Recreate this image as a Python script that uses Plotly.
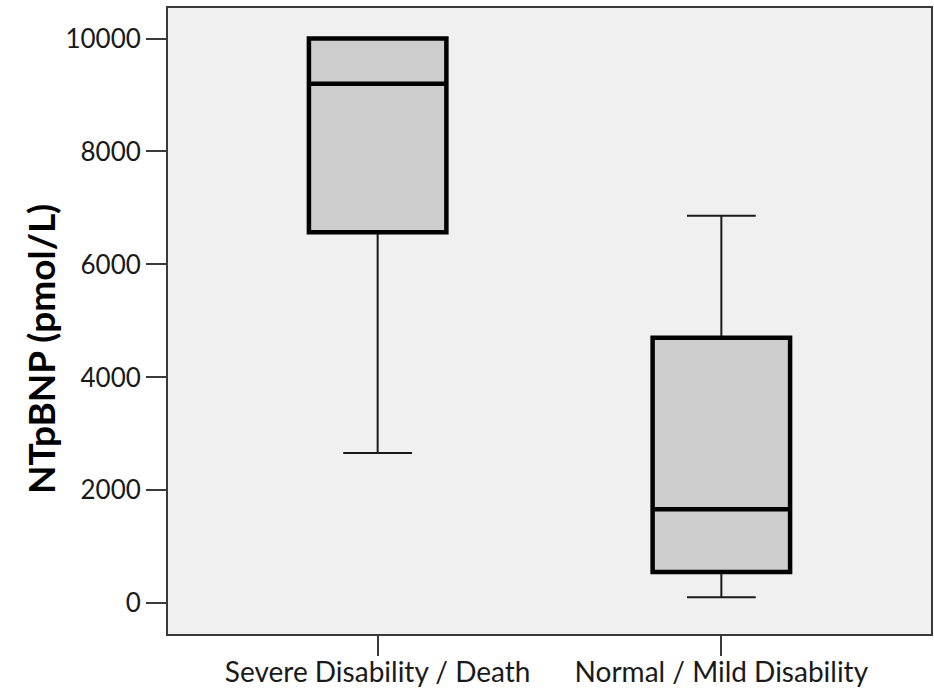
import plotly.graph_objects as go

categories = ["Severe Disability / Death", "Normal / Mild Disability"]
q1 = [6570, 555]
median = [9200, 1665]
q3 = [10000, 4700]
lower_whisker = [2660, 106]
upper_whisker = [10000, 6860]
y_ticks = [0, 2000, 4000, 6000, 8000, 10000]
y_title = "NTpBNP (pmol/L)"

fig = go.Figure()

# thin whiskers (full range)
for i, c in enumerate(categories):
    fig.add_trace(go.Box(
        x=[c], q1=[q1[i]], median=[median[i]], q3=[q3[i]],
        lowerfence=[lower_whisker[i]], upperfence=[upper_whisker[i]],
        width=0.4, whiskerwidth=0.5,
        fillcolor="#cdcdcd", line=dict(color="#1a1a1a", width=2),
        boxpoints=False, showlegend=False, hoverinfo="skip",
    ))
# thick boxes on top
for i, c in enumerate(categories):
    fig.add_trace(go.Box(
        x=[c], q1=[q1[i]], median=[median[i]], q3=[q3[i]],
        lowerfence=[q1[i]], upperfence=[q3[i]],
        width=0.4, whiskerwidth=0.5,
        fillcolor="#cdcdcd", line=dict(color="#000000", width=4.5),
        boxpoints=False, showlegend=False,
    ))

fig.update_layout(
    width=934, height=691,
    margin=dict(l=168, r=3, t=8, b=57, autoexpand=False),
    paper_bgcolor="white", plot_bgcolor="#f0f0f0",
    boxmode="overlay",
    font=dict(family="Lato, sans-serif", size=27, color="#1a1a1a"),
    annotations=[dict(
        text="<b>" + y_title + "</b>", textangle=-90,
        xref="paper", yref="paper", x=-0.168, y=0.455,
        xanchor="center", yanchor="middle", showarrow=False,
        font=dict(family="Lato, sans-serif", size=37, color="#000000"),
    )],
)
fig.update_xaxes(
    type="category", categoryorder="array", categoryarray=categories,
    range=[-0.61, 1.61], automargin=False,
    showline=True, linecolor="#3a3a3a", linewidth=2, mirror=True,
    ticks="outside", ticklen=20, tickwidth=2, tickcolor="#3a3a3a",
    ticklabelstandoff=-8,
    showgrid=False, zeroline=False,
    tickfont=dict(family="Lato, sans-serif", size=28, color="#1a1a1a"),
)
fig.update_yaxes(
    range=[-543, 10540], automargin=False,
    tickvals=y_ticks, ticktext=[str(v) for v in y_ticks],
    showline=True, linecolor="#3a3a3a", linewidth=2, mirror=True,
    ticks="outside", ticklen=20, tickwidth=2, tickcolor="#3a3a3a",
    showgrid=False, zeroline=False,
    tickfont=dict(family="Lato, sans-serif", size=26, color="#1a1a1a"),
)

fig.write_html(
    "out.html",
    config={"displayModeBar": False},
    post_script="document.body.style.margin='0';document.body.style.overflow='hidden';",
)
